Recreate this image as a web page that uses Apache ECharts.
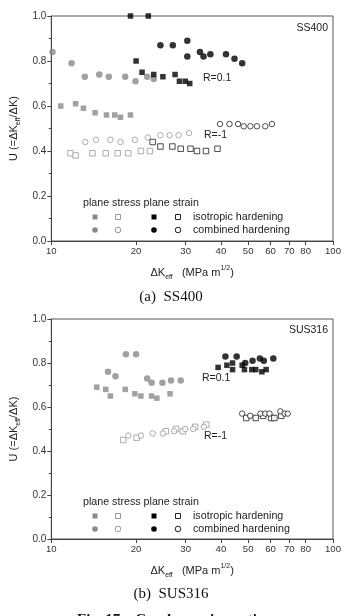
<!DOCTYPE html>
<html><head><meta charset="utf-8">
<script src="https://cdn.jsdelivr.net/npm/echarts@6/dist/echarts.min.js"></script>
<style>html,body{margin:0;padding:0;background:#fff}#c{width:344px;height:616px}</style>
</head><body><div id="c"></div>
<script>
const xTicks = [10,20,30,40,50,60,70,80,90,100];

// (a) SS400  [ΔKeff, U]
const ss400_stressIso_R01 = [[10.8,0.60],[12.2,0.61],[13.0,0.59],[14.3,0.57],[15.7,0.56],[16.8,0.56],[17.6,0.55],[19.1,0.56]];
const ss400_stressComb_R01 = [[10.1,0.84],[11.8,0.79],[13.15,0.73],[14.8,0.74],[16.0,0.73],[18.3,0.73],[19.9,0.71],[21.9,0.73],[23.1,0.72]];
const ss400_strainIso_R01 = [[19.1,1.0],[22.1,1.0],[20.0,0.80],[21.0,0.75],[23.1,0.74],[24.9,0.73],[27.5,0.74],[28.5,0.71],[29.9,0.71],[31.0,0.70]];
const ss400_strainComb_R01 = [[24.4,0.87],[27.0,0.87],[30.4,0.89],[30.4,0.82],[33.7,0.84],[34.7,0.82],[36.7,0.83],[41.7,0.83],[44.7,0.81],[47.6,0.79]];
const ss400_stressIso_Rm1 = [[11.7,0.39],[12.2,0.38],[14.0,0.39],[15.6,0.39],[17.2,0.39],[18.75,0.39],[20.8,0.40],[22.4,0.40]];
const ss400_stressComb_Rm1 = [[13.2,0.44],[14.4,0.45],[16.2,0.45],[17.6,0.44],[19.8,0.45],[22.0,0.46],[24.4,0.47],[26.3,0.47],[28.3,0.47],[30.8,0.48]];
const ss400_strainIso_Rm1 = [[22.9,0.44],[24.4,0.42],[26.9,0.42],[28.8,0.41],[31.2,0.41],[32.9,0.40],[35.4,0.40],[38.9,0.41]];
const ss400_strainComb_Rm1 = [[39.7,0.52],[42.9,0.52],[46.0,0.52],[48.2,0.51],[50.9,0.51],[53.7,0.51],[57.5,0.51],[60.7,0.52]];

// (b) SUS316
const sus316_stressIso_R01 = [[14.5,0.69],[15.6,0.68],[16.2,0.65],[18.3,0.68],[19.8,0.66],[20.8,0.65],[22.7,0.65],[23.7,0.64],[26.4,0.66]];
const sus316_stressComb_R01 = [[15.9,0.76],[16.9,0.74],[18.4,0.84],[20.0,0.84],[21.9,0.73],[22.7,0.71],[24.8,0.71],[26.6,0.72],[28.8,0.72]];
const sus316_strainIso_R01 = [[39.1,0.78],[42.0,0.79],[44.0,0.80],[44.0,0.77],[47.6,0.79],[48.5,0.77],[51.5,0.77],[53.2,0.77],[55.9,0.76],[57.9,0.77]];
const sus316_strainComb_R01 = [[41.5,0.83],[45.5,0.83],[48.8,0.80],[51.8,0.81],[55.0,0.82],[56.8,0.81],[61.4,0.82]];
const sus316_stressIso_Rm1 = [[18.0,0.45],[20.1,0.46],[25.5,0.49],[27.7,0.50],[29.3,0.49],[32.4,0.51],[35.5,0.52]];
const sus316_stressComb_Rm1 = [[18.75,0.47],[20.8,0.47],[22.9,0.48],[24.9,0.48],[27.3,0.49],[29.9,0.50],[31.9,0.50],[34.8,0.51]];
const sus316_strainIso_Rm1 = [[49.2,0.55],[53.2,0.55],[56.5,0.56],[60.3,0.55],[61.9,0.55],[65.5,0.56]];
const sus316_strainComb_Rm1 = [[47.6,0.57],[50.8,0.56],[55.3,0.57],[57.5,0.57],[59.5,0.57],[65.0,0.58],[67.3,0.57],[69.1,0.57]];

const GRAY = '#8a8a8a', BLACK = '#000';
const FONT = 'Liberation Sans, Arial, sans-serif';
const SERIF = 'Liberation Serif, Times New Roman, serif';

function sty(kind) {
  const [sym, col, open] = kind;
  return {
    type: 'scatter',
    symbol: sym,
    symbolSize: open ? 5.5 : (sym === 'rect' ? 5.5 : 6.5),
    itemStyle: open ? {color: '#fff', borderColor: col, borderWidth: 1} : {color: col},
    silent: true,
    z: 3
  };
}
const K = {
  sIsoF: ['rect', GRAY, false], sCombF: ['circle', GRAY, false],
  eIsoF: ['rect', BLACK, false], eCombF: ['circle', BLACK, false],
  sIsoO: ['rect', '#999', true], sCombO: ['circle', '#999', true],
  eIsoO: ['rect', '#222', true], eCombO: ['circle', '#222', true]
};
function mk(kind, data, idx) {
  return Object.assign(sty(kind), {xAxisIndex: idx, yAxisIndex: idx, data: data});
}

function xAxis(idx) {
  return {
    type: 'log', logBase: 10, min: 10, max: 100, gridIndex: idx,
    name: '{n|ΔK}{sub|eff}{n|   (MPa m}{sup|1/2}{n|)}',
    nameLocation: 'middle', nameGap: 24,
    nameTextStyle: {
      color: '#222', fontFamily: FONT,
      rich: {
        n: {fontSize: 11, fontFamily: FONT, color: '#222', lineHeight: 16, verticalAlign: 'middle'},
        sub: {fontSize: 7, fontFamily: FONT, color: '#222', lineHeight: 16, verticalAlign: 'bottom', padding: [6,0,0,0]},
        sup: {fontSize: 7, fontFamily: FONT, color: '#222', lineHeight: 16, verticalAlign: 'top', padding: [0,0,6,0]}
      }
    },
    axisLine: {show: true, lineStyle: {color: '#444', width: 1}},
    axisTick: {show: true, inside: false, length: 4, lineStyle: {color: '#444'}, customValues: xTicks},
    minorTick: {show: false},
    axisLabel: {color: '#333', fontSize: 9.6, fontFamily: FONT, margin: 5, customValues: xTicks,
                showMinLabel: true, showMaxLabel: true, hideOverlap: false,
                formatter: v => String(Math.round(v))},
    splitLine: {show: false}
  };
}
function yAxis(idx) {
  return {
    type: 'value', min: 0, max: 1, interval: 0.2, gridIndex: idx,
    name: '{n|U (=ΔK}{sub|eff}{n|/ΔK)}',
    nameLocation: 'middle', nameGap: 28, nameRotate: 90,
    nameTextStyle: {
      color: '#222', fontFamily: FONT,
      rich: {
        n: {fontSize: 11, fontFamily: FONT, color: '#222', lineHeight: 16, verticalAlign: 'middle'},
        sub: {fontSize: 7, fontFamily: FONT, color: '#222', lineHeight: 16, verticalAlign: 'bottom', padding: [6,0,0,0]}
      }
    },
    axisLine: {show: true, lineStyle: {color: '#444', width: 1}},
    axisTick: {show: true, inside: false, length: 4, lineStyle: {color: '#444'}},
    minorTick: {show: true, splitNumber: 2, length: 2.5, lineStyle: {color: '#444'}},
    axisLabel: {color: '#333', fontSize: 10, fontFamily: FONT, margin: 5, formatter: v => v.toFixed(1)},
    splitLine: {show: false}
  };
}

function txt(x, y, s, opt) {
  return {type: 'text', x: x, y: y, silent: true,
    style: Object.assign({text: s, fill: '#222', font: '10.5px ' + FONT, textVerticalAlign: 'middle'}, opt || {})};
}
function legendBlock(y0) {
  const els = [];
  els.push(txt(83, y0, 'plane stress plane strain', {font: '10.7px ' + FONT}));
  const cols = [95, 118, 154, 178];
  const rows = [y0 + 14, y0 + 27];
  const kinds = [[K.sIsoF, K.sIsoO, K.eIsoF, K.eIsoO], [K.sCombF, K.sCombO, K.eCombF, K.eCombO]];
  rows.forEach((ry, ri) => {
    cols.forEach((cx, ci) => {
      const [sym, col, open] = kinds[ri][ci];
      const st = open ? {fill: '#fff', stroke: col, lineWidth: 1} : {fill: col};
      if (sym === 'rect') els.push({type: 'rect', silent: true, shape: {x: cx - 2.5, y: ry - 2.5, width: 5, height: 5}, style: st});
      else els.push({type: 'circle', silent: true, shape: {cx: cx, cy: ry, r: 2.8}, style: st});
    });
  });
  els.push(txt(193, rows[0], 'isotropic hardening', {font: '10.7px ' + FONT}));
  els.push(txt(193, rows[1], 'combined hardening', {font: '10.7px ' + FONT}));
  return els;
}

const graphics = [].concat(
  legendBlock(203),
  legendBlock(502),
  [
    txt(328, 28, 'SS400', {textAlign: 'right'}),
    txt(203, 78, 'R=0.1'),
    txt(204, 135, 'R=-1'),
    txt(328, 330, 'SUS316', {textAlign: 'right'}),
    txt(202, 378, 'R=0.1'),
    txt(204, 436, 'R=-1'),
    txt(171, 297, '(a)  SS400', {font: '15px ' + SERIF, textAlign: 'center', fill: '#111'}),
    txt(171, 594, '(b)  SUS316', {font: '15px ' + SERIF, textAlign: 'center', fill: '#111'}),
    txt(77, 620, 'Fig. 17    Crack opening ratio', {font: 'bold 15px ' + SERIF, fill: '#111'})
  ]
);

const chart = echarts.init(document.getElementById('c'), null, {renderer: 'canvas'});
chart.setOption({
  animation: false,
  backgroundColor: '#fff',
  grid: [
    {left: 40, top: 16, width: 294, height: 225, show: true, borderColor: '#555', borderWidth: 1, backgroundColor: 'transparent'},
    {left: 40, top: 319, width: 294, height: 220, show: true, borderColor: '#555', borderWidth: 1, backgroundColor: 'transparent'}
  ],
  xAxis: [xAxis(0), xAxis(1)],
  yAxis: [yAxis(0), yAxis(1)],
  series: [
    mk(K.sIsoF, ss400_stressIso_R01, 0), mk(K.sCombF, ss400_stressComb_R01, 0),
    mk(K.eIsoF, ss400_strainIso_R01, 0), mk(K.eCombF, ss400_strainComb_R01, 0),
    mk(K.sIsoO, ss400_stressIso_Rm1, 0), mk(K.sCombO, ss400_stressComb_Rm1, 0),
    mk(K.eIsoO, ss400_strainIso_Rm1, 0), mk(K.eCombO, ss400_strainComb_Rm1, 0),
    mk(K.sIsoF, sus316_stressIso_R01, 1), mk(K.sCombF, sus316_stressComb_R01, 1),
    mk(K.eIsoF, sus316_strainIso_R01, 1), mk(K.eCombF, sus316_strainComb_R01, 1),
    mk(K.sIsoO, sus316_stressIso_Rm1, 1), mk(K.sCombO, sus316_stressComb_Rm1, 1),
    mk(K.eIsoO, sus316_strainIso_Rm1, 1), mk(K.eCombO, sus316_strainComb_Rm1, 1)
  ].map(s => Object.assign(s, {clip: false})),
  graphic: graphics
});
</script></body></html>
